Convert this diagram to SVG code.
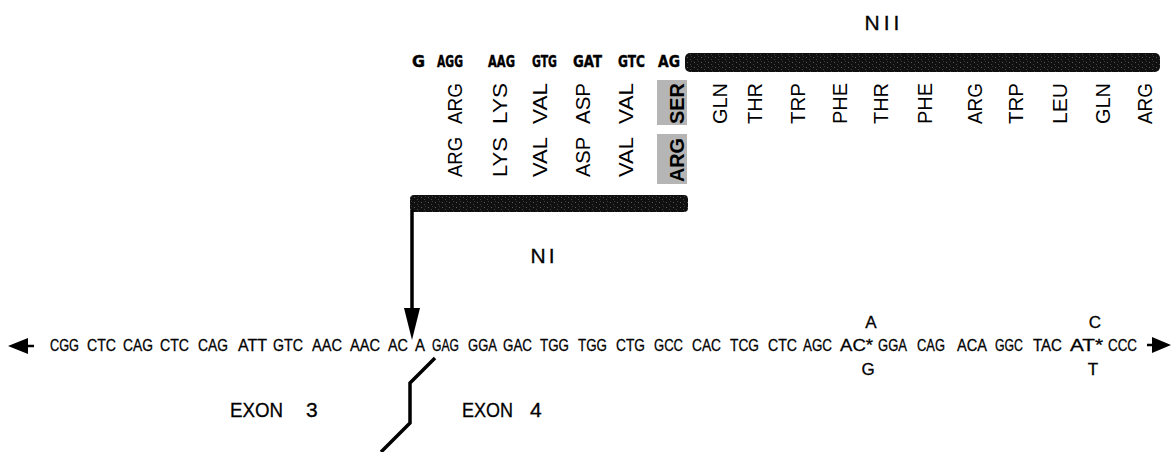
<svg xmlns="http://www.w3.org/2000/svg" width="1172" height="452" viewBox="0 0 1172 452">
<style>
.cod{font-family:"DejaVu Sans","Liberation Sans",sans-serif;font-weight:bold;font-size:15px;fill:#000;stroke:#000;stroke-width:0.4}
.aa{font-family:"Liberation Sans",Arial,sans-serif;font-size:21px;fill:#000}
.aab{font-family:"Liberation Sans",Arial,sans-serif;font-size:21px;font-weight:bold;fill:#000}
.seq{font-family:"Liberation Sans",Arial,sans-serif;font-size:17px;fill:#000;stroke:#000;stroke-width:0.3}
.lbl{font-family:"Liberation Sans",Arial,sans-serif;font-size:21px;fill:#000;stroke:#000;stroke-width:0.3}
.ln{fill:none;stroke:#000;stroke-width:3.5}
</style>
<defs>
<pattern id="tex" width="7" height="5" patternUnits="userSpaceOnUse">
<rect width="7" height="5" fill="#101010"/>
<rect x="1" y="2" width="1" height="1" fill="#5a5a5a"/>
<rect x="4" y="4" width="1" height="1" fill="#444"/>
<rect x="5" y="1" width="1" height="1" fill="#3a3a3a"/>
</pattern>
</defs>
<g id="nii-label"><text class="lbl" x="884" y="30" text-anchor="middle" letter-spacing="4">NII</text></g>
<g id="top-codons">
<text class="cod" x="412" y="67" textLength="13" lengthAdjust="spacingAndGlyphs">G</text>
<text class="cod" x="437" y="67" textLength="26" lengthAdjust="spacingAndGlyphs">AGG</text>
<text class="cod" x="488" y="67" textLength="27" lengthAdjust="spacingAndGlyphs">AAG</text>
<text class="cod" x="532" y="67" textLength="25" lengthAdjust="spacingAndGlyphs">GTG</text>
<text class="cod" x="573" y="67" textLength="29" lengthAdjust="spacingAndGlyphs">GAT</text>
<text class="cod" x="618" y="67" textLength="27" lengthAdjust="spacingAndGlyphs">GTC</text>
<text class="cod" x="658" y="67" textLength="22" lengthAdjust="spacingAndGlyphs">AG</text>
</g>
<g id="nii-bar"><rect x="685" y="53" width="475" height="19" rx="5" fill="url(#tex)"/></g>
<g id="shade">
<rect x="657" y="80" width="30" height="45" fill="#b5b5b5"/>
<rect x="657" y="134" width="30" height="50" fill="#b5b5b5"/>
</g>
<g id="aa-row1">
<text class="aa" transform="translate(462,124) rotate(-90)" textLength="41" lengthAdjust="spacingAndGlyphs">ARG</text>
<text class="aa" transform="translate(507,124) rotate(-90)" textLength="41" lengthAdjust="spacingAndGlyphs">LYS</text>
<text class="aa" transform="translate(547,124) rotate(-90)" textLength="41" lengthAdjust="spacingAndGlyphs">VAL</text>
<text class="aa" transform="translate(590,124) rotate(-90)" textLength="41" lengthAdjust="spacingAndGlyphs">ASP</text>
<text class="aa" transform="translate(633,124) rotate(-90)" textLength="41" lengthAdjust="spacingAndGlyphs">VAL</text>
<text class="aab" transform="translate(684,124) rotate(-90)" textLength="41" lengthAdjust="spacingAndGlyphs">SER</text>
<text class="aa" transform="translate(727,124) rotate(-90)" textLength="41" lengthAdjust="spacingAndGlyphs">GLN</text>
<text class="aa" transform="translate(762,124) rotate(-90)" textLength="41" lengthAdjust="spacingAndGlyphs">THR</text>
<text class="aa" transform="translate(805,124) rotate(-90)" textLength="41" lengthAdjust="spacingAndGlyphs">TRP</text>
<text class="aa" transform="translate(847,124) rotate(-90)" textLength="41" lengthAdjust="spacingAndGlyphs">PHE</text>
<text class="aa" transform="translate(888,124) rotate(-90)" textLength="41" lengthAdjust="spacingAndGlyphs">THR</text>
<text class="aa" transform="translate(932,124) rotate(-90)" textLength="41" lengthAdjust="spacingAndGlyphs">PHE</text>
<text class="aa" transform="translate(982,124) rotate(-90)" textLength="41" lengthAdjust="spacingAndGlyphs">ARG</text>
<text class="aa" transform="translate(1023,124) rotate(-90)" textLength="41" lengthAdjust="spacingAndGlyphs">TRP</text>
<text class="aa" transform="translate(1067,124) rotate(-90)" textLength="41" lengthAdjust="spacingAndGlyphs">LEU</text>
<text class="aa" transform="translate(1110,124) rotate(-90)" textLength="41" lengthAdjust="spacingAndGlyphs">GLN</text>
<text class="aa" transform="translate(1152,124) rotate(-90)" textLength="41" lengthAdjust="spacingAndGlyphs">ARG</text>
</g>
<g id="aa-row2">
<text class="aa" transform="translate(462,177) rotate(-90)" textLength="40" lengthAdjust="spacingAndGlyphs">ARG</text>
<text class="aa" transform="translate(507,177) rotate(-90)" textLength="40" lengthAdjust="spacingAndGlyphs">LYS</text>
<text class="aa" transform="translate(547,177) rotate(-90)" textLength="40" lengthAdjust="spacingAndGlyphs">VAL</text>
<text class="aa" transform="translate(590,177) rotate(-90)" textLength="40" lengthAdjust="spacingAndGlyphs">ASP</text>
<text class="aa" transform="translate(633,177) rotate(-90)" textLength="40" lengthAdjust="spacingAndGlyphs">VAL</text>
<text class="aab" transform="translate(684,182) rotate(-90)" textLength="44" lengthAdjust="spacingAndGlyphs">ARG</text>
</g>
<g id="ni-bar"><rect x="410" y="195" width="278" height="17" rx="4" fill="url(#tex)"/></g>
<g id="ni-label"><text class="lbl" x="544" y="263" text-anchor="middle" letter-spacing="3">NI</text></g>
<g id="connectors">
<line class="ln" x1="412" y1="210" x2="412" y2="312"/>
<polygon points="404,308 420,308 412,340" fill="#000"/>
<polyline class="ln" points="435,358 410,383 410,423 381,452"/>
<polygon points="8,346 28,338 28,354" fill="#000"/>
<line x1="26" y1="346" x2="34" y2="346" stroke="#000" stroke-width="2.5"/>
<polygon points="1171,345 1152,337 1152,353" fill="#000"/>
<line x1="1147" y1="345" x2="1154" y2="345" stroke="#000" stroke-width="2.5"/>
</g>
<g id="sequence">
<text class="seq" x="50" y="351" textLength="29" lengthAdjust="spacingAndGlyphs">CGG</text>
<text class="seq" x="87" y="351" textLength="29" lengthAdjust="spacingAndGlyphs">CTC</text>
<text class="seq" x="123" y="351" textLength="30" lengthAdjust="spacingAndGlyphs">CAG</text>
<text class="seq" x="160" y="351" textLength="29" lengthAdjust="spacingAndGlyphs">CTC</text>
<text class="seq" x="198" y="351" textLength="30" lengthAdjust="spacingAndGlyphs">CAG</text>
<text class="seq" x="238" y="351" textLength="29" lengthAdjust="spacingAndGlyphs">ATT</text>
<text class="seq" x="273" y="351" textLength="30" lengthAdjust="spacingAndGlyphs">GTC</text>
<text class="seq" x="312" y="351" textLength="30" lengthAdjust="spacingAndGlyphs">AAC</text>
<text class="seq" x="350" y="351" textLength="30" lengthAdjust="spacingAndGlyphs">AAC</text>
<text class="seq" x="388" y="351" textLength="20" lengthAdjust="spacingAndGlyphs">AC</text>
<text class="seq" x="415" y="351" textLength="10" lengthAdjust="spacingAndGlyphs">A</text>
<text class="seq" x="432" y="351" textLength="27" lengthAdjust="spacingAndGlyphs">GAG</text>
<text class="seq" x="468" y="351" textLength="29" lengthAdjust="spacingAndGlyphs">GGA</text>
<text class="seq" x="503" y="351" textLength="29" lengthAdjust="spacingAndGlyphs">GAC</text>
<text class="seq" x="540" y="351" textLength="29" lengthAdjust="spacingAndGlyphs">TGG</text>
<text class="seq" x="578" y="351" textLength="29" lengthAdjust="spacingAndGlyphs">TGG</text>
<text class="seq" x="616" y="351" textLength="29" lengthAdjust="spacingAndGlyphs">CTG</text>
<text class="seq" x="654" y="351" textLength="29" lengthAdjust="spacingAndGlyphs">GCC</text>
<text class="seq" x="692" y="351" textLength="29" lengthAdjust="spacingAndGlyphs">CAC</text>
<text class="seq" x="730" y="351" textLength="29" lengthAdjust="spacingAndGlyphs">TCG</text>
<text class="seq" x="768" y="351" textLength="29" lengthAdjust="spacingAndGlyphs">CTC</text>
<text class="seq" x="803" y="351" textLength="29" lengthAdjust="spacingAndGlyphs">AGC</text>
<text class="seq" x="840" y="351" textLength="33" lengthAdjust="spacingAndGlyphs">AC*</text>
<text class="seq" x="878" y="351" textLength="29" lengthAdjust="spacingAndGlyphs">GGA</text>
<text class="seq" x="917" y="351" textLength="28" lengthAdjust="spacingAndGlyphs">CAG</text>
<text class="seq" x="957" y="351" textLength="30" lengthAdjust="spacingAndGlyphs">ACA</text>
<text class="seq" x="995" y="351" textLength="28" lengthAdjust="spacingAndGlyphs">GGC</text>
<text class="seq" x="1033" y="351" textLength="29" lengthAdjust="spacingAndGlyphs">TAC</text>
<text class="seq" x="1070" y="351" textLength="33" lengthAdjust="spacingAndGlyphs">AT*</text>
<text class="seq" x="1108" y="351" textLength="29" lengthAdjust="spacingAndGlyphs">CCC</text>
</g>
<g id="variants">
<text class="seq" x="871" y="328" text-anchor="middle">A</text>
<text class="seq" x="868" y="375" text-anchor="middle">G</text>
<text class="seq" x="1095" y="328" text-anchor="middle">C</text>
<text class="seq" x="1093" y="375" text-anchor="middle">T</text>
</g>
<g id="exon3"><text class="lbl" x="230" y="417" textLength="53" lengthAdjust="spacingAndGlyphs">EXON</text><text class="lbl" x="306" y="417">3</text></g>
<g id="exon4"><text class="lbl" x="462" y="417" textLength="51" lengthAdjust="spacingAndGlyphs">EXON</text><text class="lbl" x="530" y="417">4</text></g>
</svg>
